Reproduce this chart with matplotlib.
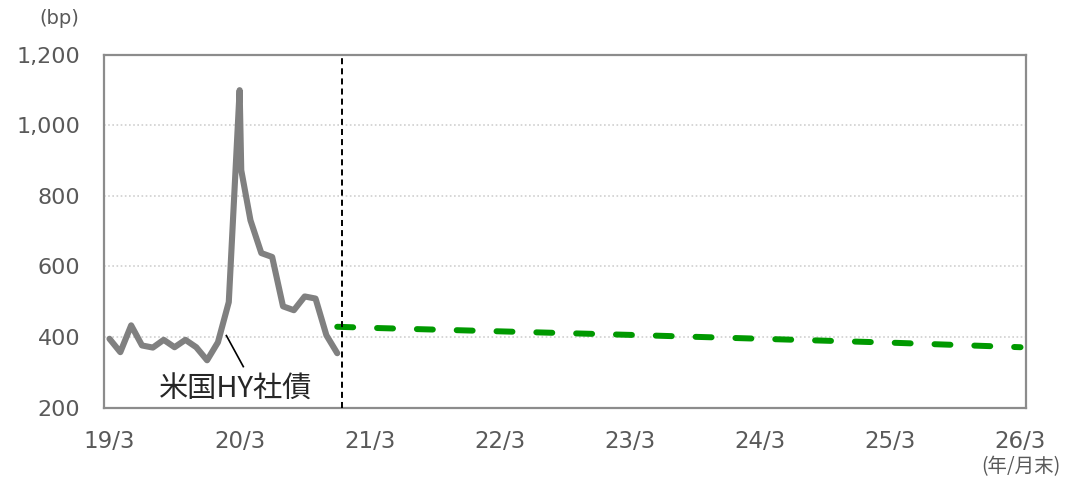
import matplotlib
matplotlib.use("Agg")
import matplotlib.pyplot as plt

plt.rcParams['font.family'] = ['DejaVu Sans', 'Noto Sans CJK JP']

# Month index: 0 = 2019/3, 84 = 2026/3
hy_x = [0, 1, 2, 3, 4, 5, 6, 7, 8, 9, 10, 11, 12, 12.15, 13, 14, 15, 16, 17, 18, 19, 20, 21]
hy_y = [395, 357, 433, 376, 370, 392, 371, 392, 371, 334, 385, 499, 1100, 873, 731, 638, 627,
        487, 476, 515, 509, 405, 354]

fc_x = [21, 24, 36, 48, 60, 72, 84]
fc_y = [429, 426, 416, 406, 395, 384, 371]

tick_pos = [0, 12, 24, 36, 48, 60, 72, 84]
tick_labels = ["19/3", "20/3", "21/3", "22/3", "23/3", "24/3", "25/3", "26/3"]
y_ticks = [200, 400, 600, 800, 1000, 1200]
y_labels = ["200", "400", "600", "800", "1,000", "1,200"]
divider_x = 21.47

fig = plt.figure(figsize=(10.76, 4.80), dpi=100)
ax = fig.add_axes([0.0967, 0.151, 0.8568, 0.7346])

ax.set_xlim(-0.5, 84.5)
ax.set_ylim(200, 1200)

for yv in [400, 600, 800, 1000]:
    ax.axhline(yv, color="#d0d0d0", lw=1.2, linestyle=(0, (1, 1.5)), zorder=1)

ax.plot(hy_x, hy_y, color="#808080", lw=4.4, solid_joinstyle="round",
        solid_capstyle="round", zorder=3)
ax.plot(fc_x, fc_y, color="#009900", lw=4.3, linestyle=(0, (2.67, 4.0)),
        dash_capstyle="round", zorder=3)
ax.axvline(divider_x, color="black", lw=1.4, linestyle=(0, (3.1, 2.1)), zorder=4)

ax.plot([10.78, 12.34], [404, 316], color="black", lw=1.2, zorder=4)
ax.text(11.6, 249, "米国HY社債", fontsize=21, ha="center", va="center",
        color="#262626", family=['Noto Sans CJK JP', 'DejaVu Sans'], zorder=5)

ax.set_xticks(tick_pos)
ax.set_xticklabels(tick_labels)
ax.set_yticks(y_ticks)
ax.set_yticklabels(y_labels)
ax.tick_params(axis='both', length=0, labelsize=16, labelcolor="#595959")
ax.tick_params(axis='x', labelsize=16.5)
ax.tick_params(axis='y', pad=17)
ax.tick_params(axis='x', pad=16)

for s in ax.spines.values():
    s.set_color("#8c8c8c")
    s.set_linewidth(1.6)

fig.text(59 / 1076, 1 - 19 / 480, "(bp)", fontsize=14, ha="center", va="center", color="#595959")
fig.text(1021 / 1076, 1 - 467 / 480, "(年/月末)", fontsize=14, ha="center", va="center",
         color="#595959", family=['Noto Sans CJK JP', 'DejaVu Sans'])

fig.savefig("out.png", dpi=100)
